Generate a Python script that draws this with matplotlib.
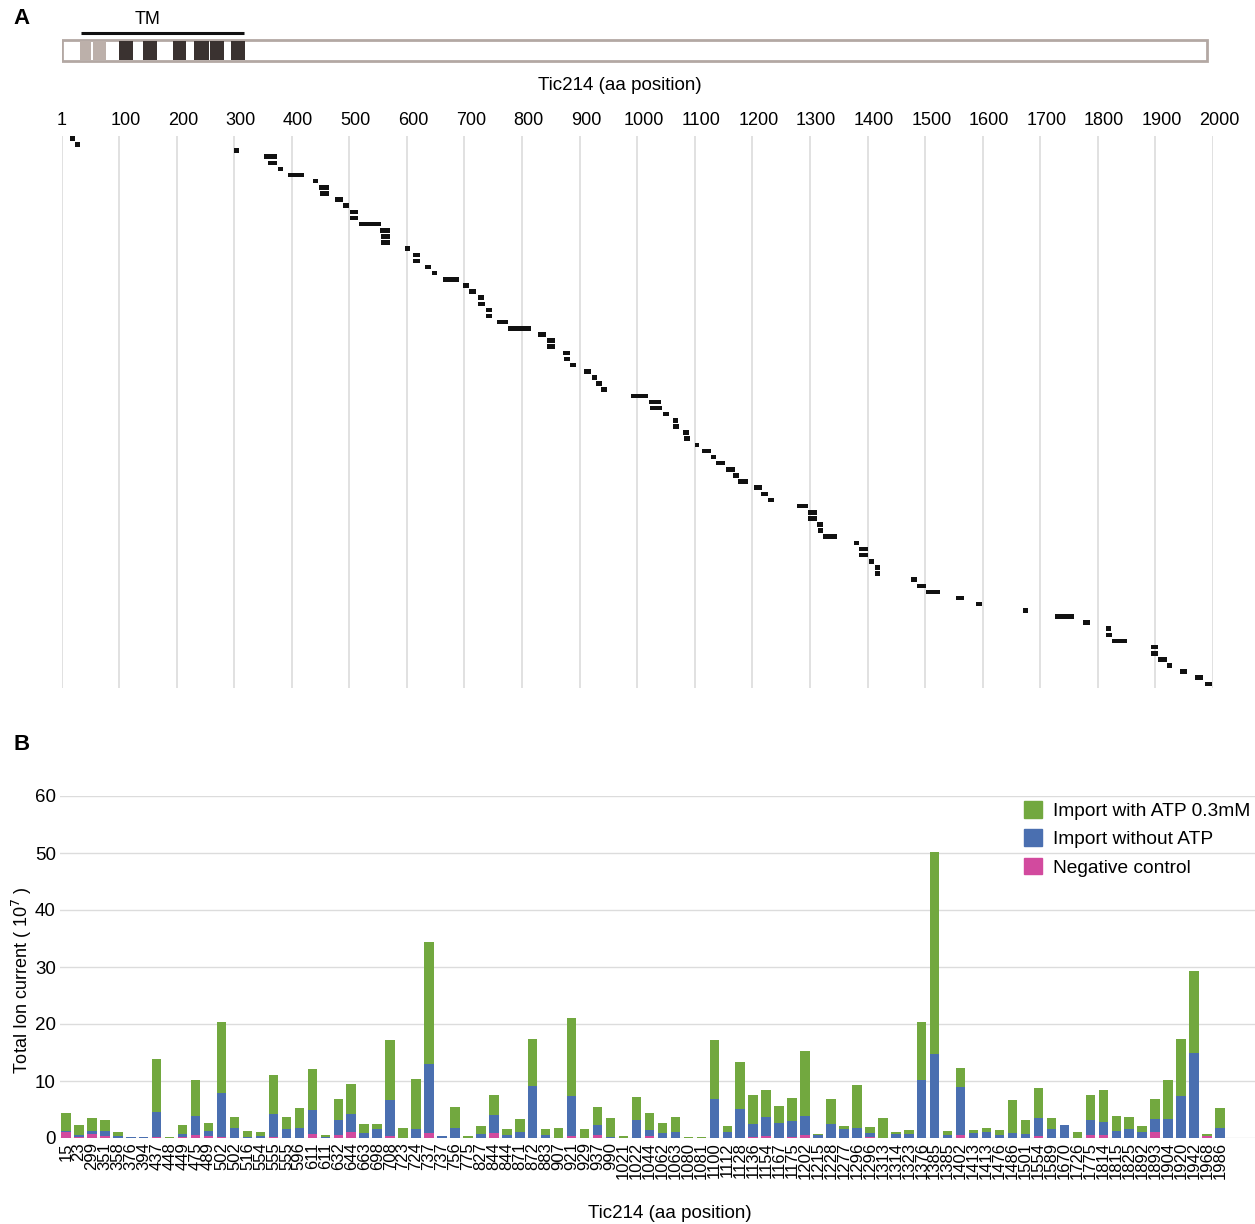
import matplotlib
matplotlib.use('Agg')
import matplotlib.pyplot as plt
from matplotlib.patches import Rectangle, Patch
import numpy as np

plt.rcParams['font.family'] = ['Liberation Sans', 'DejaVu Sans']

# ---------------- data ----------------
pep_start = [15, 23, 299, 351, 358, 376, 394, 437, 448, 449,
             475, 489, 502, 502, 516, 554, 555, 555, 596, 611,
             611, 632, 644, 663, 698, 708, 723, 724, 737, 737,
             756, 775, 827, 844, 844, 871, 872, 883, 907, 921,
             929, 937, 990, 1021, 1022, 1044, 1062, 1063, 1080, 1081,
             1100, 1112, 1128, 1136, 1154, 1167, 1175, 1202, 1215, 1228,
             1277, 1296, 1296, 1313, 1314, 1323, 1376, 1385, 1385, 1402,
             1413, 1413, 1476, 1486, 1501, 1554, 1589, 1670, 1726, 1775,
             1814, 1815, 1825, 1892, 1893, 1904, 1920, 1942, 1968, 1986]

pep_end = [24, 32, 308, 374, 374, 385, 422, 446, 465, 465,
           489, 500, 515, 515, 555, 570, 571, 571, 605, 622,
           622, 642, 653, 690, 707, 720, 734, 735, 747, 747,
           776, 815, 841, 857, 857, 883, 884, 893, 919, 930,
           938, 947, 1019, 1042, 1043, 1055, 1071, 1072, 1090, 1091,
           1108, 1128, 1137, 1153, 1170, 1177, 1192, 1216, 1227, 1238,
           1297, 1312, 1312, 1322, 1323, 1347, 1385, 1400, 1400, 1412,
           1422, 1422, 1486, 1502, 1526, 1568, 1598, 1678, 1758, 1787,
           1823, 1824, 1851, 1904, 1905, 1920, 1928, 1954, 1982, 1998]

neg_ctrl = [1.0, 0.1, 0.65, 0.4, 0.0, 0.0, 0.0, 0.1, 0.0, 0.2,
            0.5, 0.4, 0.1, 0.05, 0.0, 0.0, 0.1, 0.0, 0.0, 0.75,
            0.0, 0.5, 1.0, 0.0, 0.0, 0.4, 0.0, 0.05, 0.9, 0.0,
            0.0, 0.0, 0.0, 0.8, 0.0, 0.0, 0.05, 0.0, 0.0, 0.35,
            0.0, 0.5, 0.0, 0.0, 0.0, 0.3, 0.0, 0.0, 0.0, 0.0,
            0.0, 0.0, 0.0, 0.1, 0.4, 0.0, 0.2, 0.5, 0.0, 0.0,
            0.0, 0.0, 0.1, 0.0, 0.0, 0.0, 0.0, 0.0, 0.0, 0.6,
            0.0, 0.0, 0.0, 0.0, 0.0, 0.4, 0.0, 0.0, 0.0, 0.6,
            0.5, 0.0, 0.0, 0.0, 1.1, 0.0, 0.0, 0.0, 0.3, 0.0]

no_atp = [0.3, 0.5, 0.6, 0.9, 0.4, 0.1, 0.1, 4.5, 0.05, 0.45,
          3.4, 0.8, 7.8, 1.65, 0.25, 0.4, 4.1, 1.5, 1.7, 4.15,
          0.1, 2.7, 3.2, 0.9, 1.5, 6.2, 0.0, 1.55, 12.0, 0.35,
          1.8, 0.0, 0.65, 3.2, 0.5, 1.0, 9.05, 0.6, 0.0, 7.0,
          0.0, 1.8, 0.1, 0.0, 3.1, 1.05, 0.9, 1.06, 0.0, 0.0,
          6.9, 1.0, 5.1, 2.3, 3.3, 2.65, 2.8, 3.3, 0.5, 2.4,
          1.5, 1.8, 0.85, 0.0, 0.65, 0.65, 10.1, 14.8, 0.6, 8.4,
          0.9, 1.0, 0.5, 0.9, 0.65, 3.1, 1.65, 2.2, 0.0, 2.6,
          2.3, 1.2, 1.6, 1.06, 2.2, 3.35, 7.3, 15.0, 0.1, 1.7]

with_atp = [3.1, 1.6, 2.2, 1.9, 0.6, 0.15, 0.15, 9.3, 0.1, 1.55,
            6.3, 1.45, 12.5, 2.05, 0.95, 0.7, 6.9, 2.2, 3.65, 7.2,
            0.5, 3.6, 5.2, 1.5, 0.9, 10.6, 1.8, 8.7, 21.4, 0.0,
            3.7, 0.3, 1.45, 3.5, 1.0, 2.35, 8.3, 0.9, 1.7, 13.65,
            1.6, 3.1, 3.4, 0.4, 4.1, 2.95, 1.8, 2.6, 0.2, 0.1,
            10.3, 1.1, 8.3, 5.2, 4.8, 3.0, 4.1, 11.5, 0.15, 4.5,
            0.6, 7.5, 1.05, 3.5, 0.45, 0.7, 10.2, 35.4, 0.6, 3.2,
            0.45, 0.7, 0.85, 5.75, 2.45, 5.3, 1.85, 0.0, 1.06, 4.3,
            5.7, 2.7, 2.1, 1.04, 3.5, 6.75, 10.0, 14.3, 0.35, 3.5]

axis_ticks = [1, 100, 200, 300, 400, 500, 600, 700, 800, 900, 1000,
              1100, 1200, 1300, 1400, 1500, 1600, 1700, 1800, 1900, 2000]
tm_light = [(32, 51), (55, 77)]
tm_dark = [(100, 124), (142, 166), (194, 216), (230, 256), (258, 282), (295, 319)]
tm_span = (34, 317)
protein_len = 1990

series_labels = ['Import with ATP 0.3mM', 'Import without ATP', 'Negative control']
c_green = '#72A83F'
c_blue = '#4A6FB0'
c_pink = '#D24A9E'

# ---------------- figure ----------------
W, H = 1255, 1224
fig = plt.figure(figsize=(W / 100, H / 100), dpi=100)


def fx(px):
    return px / W


def fy(px):
    return 1 - px / H


fig.text(fx(22), fy(18), 'A', fontsize=16, fontweight='bold', ha='center', va='center')
fig.text(fx(22), fy(745), 'B', fontsize=16, fontweight='bold', ha='center', va='center')

# domain diagram
axd = fig.add_axes([fx(62), fy(66), 1151 / W, (66 - 6) / H])
axd.set_xlim(1, 2000)
axd.set_ylim(66, 6)
axd.axis('off')
axd.add_patch(Rectangle((1, 39.5), protein_len - 1, 21.5, facecolor='white',
                        edgecolor='#b3a8a3', lw=2))
for a, b in tm_light:
    axd.add_patch(Rectangle((a, 40.5), b - a, 19.5, facecolor='#bcb0aa', edgecolor='none'))
for a, b in tm_dark:
    axd.add_patch(Rectangle((a, 40.5), b - a, 19.5, facecolor='#3a3230', edgecolor='none'))
axd.plot(list(tm_span), [33, 33], color='#111111', lw=2.2, solid_capstyle='butt')
axd.text(150, 19, 'TM', ha='center', va='center', fontsize=13)

fig.text(fx(620), fy(85), 'Tic214 (aa position)', ha='center', va='center', fontsize=13.5)

# peptide coverage map
axm = fig.add_axes([fx(62), fy(688), 1151 / W, (688 - 136) / H])
axm.set_xlim(1, 2000)
n = len(pep_start)
axm.set_ylim(89.67, -0.375)
axm.axis('off')
for v in axis_ticks:
    axm.axvline(v, color='#dcdcdc', lw=1.2, zorder=0)
rows = np.arange(n)
widths = np.array(pep_end) - np.array(pep_start)
axm.barh(rows, widths, left=pep_start, height=0.74, color='#111111', zorder=2)
for v in axis_ticks:
    dx = 0 if v == 1 else 4.5
    axm.annotate(str(v), xy=(v, 1), xycoords=('data', 'axes fraction'),
                 xytext=(dx, 11.5), textcoords='offset points',
                 ha='center', va='center', fontsize=13)

# bar chart
axb = fig.add_axes([fx(60), fy(1138), 1 - fx(60), (1138 - 796) / H])
x = np.arange(n)
neg = np.array(neg_ctrl)
noa = np.array(no_atp)
wa = np.array(with_atp)
bw = 0.73
axb.bar(x, neg, width=bw, color=c_pink, zorder=2)
axb.bar(x, noa, bottom=neg, width=bw, color=c_blue, zorder=2)
axb.bar(x, wa, bottom=neg + noa, width=bw, color=c_green, zorder=2)
axb.set_xlim(-0.46, 91.7)
axb.set_ylim(0, 60)
axb.set_yticks(range(0, 61, 10))
axb.yaxis.grid(True, color='#dcdcdc', lw=1)
axb.set_axisbelow(True)
for s in axb.spines.values():
    s.set_visible(False)
axb.tick_params(axis='both', length=0)
axb.tick_params(axis='y', labelsize=13.5, pad=3)
axb.tick_params(axis='x', labelsize=12, pad=3)
axb.set_xticks(x)
axb.set_xticklabels([str(s) for s in pep_start], rotation=90)

fig.text(fx(22), fy(980), r'Total Ion current ( 10$^{7}$ )', rotation=90,
         ha='center', va='center', fontsize=13)
fig.text(fx(670), fy(1213), 'Tic214 (aa position)', ha='center', va='center', fontsize=13.5)

handles = [Patch(color=c_green), Patch(color=c_blue), Patch(color=c_pink)]
axb.legend(handles, series_labels, loc='upper left',
           bbox_to_anchor=(fx(1024), fy(801)), bbox_transform=fig.transFigure,
           frameon=False, fontsize=13.8, handlelength=0.95, handleheight=0.95,
           handletextpad=0.55, labelspacing=0.5, borderaxespad=0, borderpad=0)

fig.savefig('out.png', dpi=100)
